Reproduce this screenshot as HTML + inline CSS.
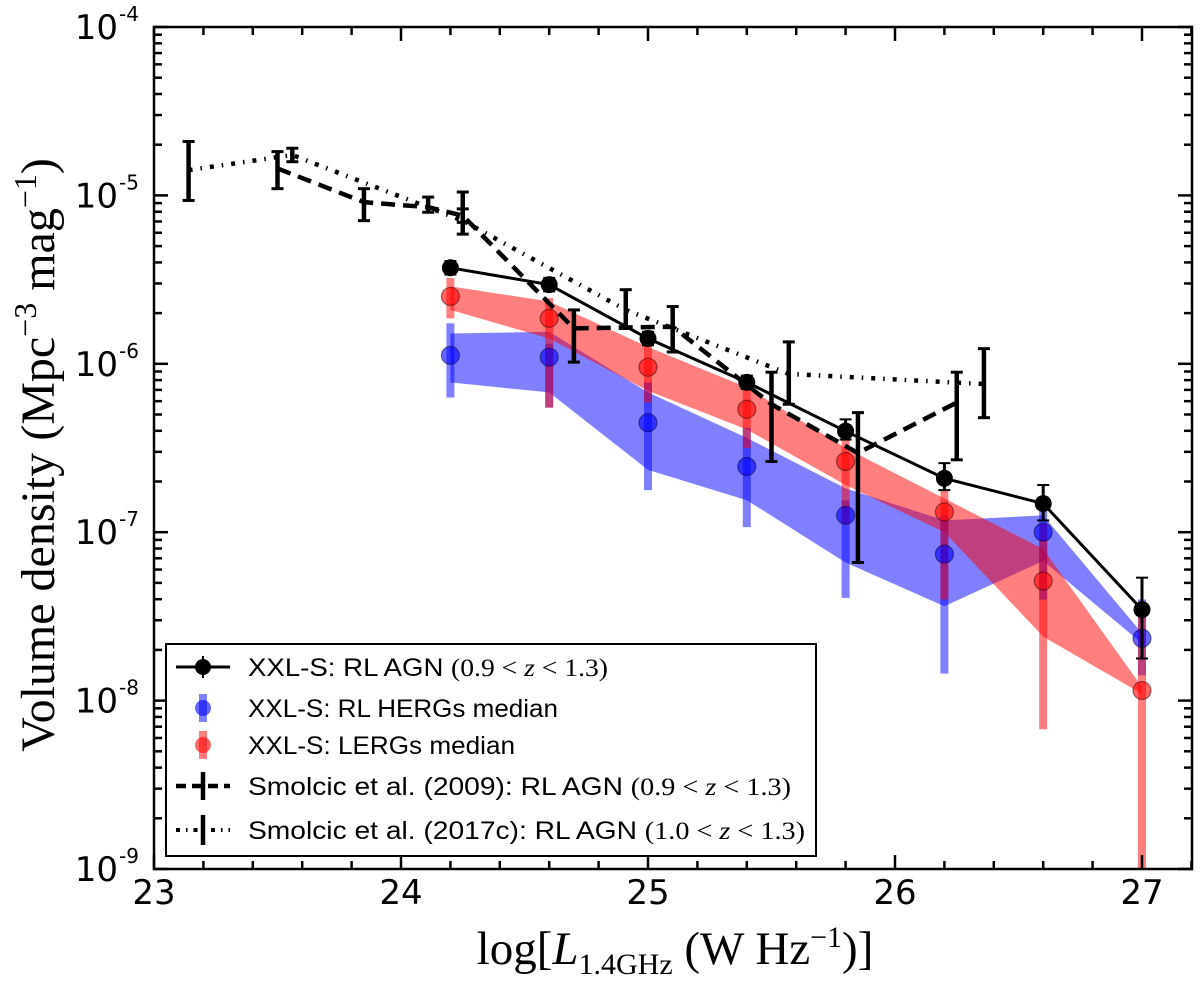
<!DOCTYPE html>
<html><head><meta charset="utf-8">
<style>
html,body{margin:0;padding:0;background:#fff;}
body{position:relative;width:1200px;height:986px;overflow:hidden;}
svg{display:block;}
</style></head>
<body>
<svg id="chart" width="1200" height="986" viewBox="0 0 1200 986" xmlns="http://www.w3.org/2000/svg">
<rect width="1200" height="986" fill="#fff"/>
<g id="plot"></g>
<g id="axes"></g>
</svg>
<script>
// ---- data (log10 of volume density) ----
const xxlX = [24.2, 24.6, 25.0, 25.4, 25.8, 26.2, 26.6, 27.0];
const agnY = [-5.43, -5.53, -5.85, -6.11, -6.40, -6.68, -6.83, -7.46];
const agnLo = [-5.47, -5.57, -5.89, -6.15, -6.45, -6.75, -6.93, -7.75];
const agnHi = [-5.39, -5.49, -5.81, -6.07, -6.33, -6.59, -6.72, -7.27];
const lergY = [-5.60, -5.73, -6.02, -6.27, -6.58, -6.88, -7.29, -7.94];
const lergBandHi = [-5.54, -5.63, -5.90, -6.14, -6.50, -6.80, -7.10, -7.92];
const lergBandLo = [-5.68, -5.85, -6.16, -6.39, -6.72, -7.00, -7.62, -7.96];
const lergErrLo = [-5.73, -6.26, -6.23, -6.50, -6.95, -7.40, -8.17, -9.0];
const lergErrHi = [-5.49, -5.61, -5.80, -6.12, -6.45, -6.75, -6.95, -7.50];
const hergY = [-5.95, -5.96, -6.35, -6.61, -6.90, -7.13, -7.00, -7.63];
const hergBandHi = [-5.82, -5.81, -6.17, -6.44, -6.74, -6.93, -6.90, -7.60];
const hergBandLo = [-6.11, -6.17, -6.63, -6.81, -7.18, -7.44, -7.17, -7.66];
const hergErrLo = [-6.20, -6.26, -6.75, -6.97, -7.39, -7.84, -7.40, -7.85];
const hergErrHi = [-5.76, -5.88, -6.11, -6.38, -6.81, -6.90, -6.80, -7.40];
const s09X = [23.50, 23.85, 24.11, 24.25, 24.70, 25.10, 25.50, 25.85, 26.25];
const s09Y = [-4.84, -5.04, -5.07, -5.12, -5.79, -5.78, -6.24, -6.53, -6.23];
const s09Lo = [-4.96, -5.15, -5.10, -5.16, -5.99, -5.93, -6.58, -7.18, -6.57];
const s09Hi = [-4.74, -4.96, -5.01, -5.08, -5.68, -5.66, -6.05, -6.29, -6.05];
const s17X = [23.14, 23.56, 24.25, 24.91, 25.57, 26.36];
const s17Y = [-4.85, -4.76, -5.15, -5.68, -6.06, -6.12];
const s17Lo = [-5.03, -4.80, -5.23, -5.79, -6.24, -6.32];
const s17Hi = [-4.68, -4.72, -4.98, -5.56, -5.87, -5.91];
const xTicks = [23, 24, 25, 26, 27];
const yTicks = [-4, -5, -6, -7, -8, -9];

// ---- axes ----
const L = 154, R = 1192, T = 27, B = 869;
const xMin = 23, xMax = 23 + (R - L) / 247;
const yTop = -4, yBot = -9;
const sx = v => L + (v - xMin) / (xMax - xMin) * (R - L);
const sy = v => T + (yTop - v) / (yTop - yBot) * (B - T);
const NS = 'http://www.w3.org/2000/svg';
function mk(tag, attrs, parent) {
  const e = document.createElementNS(NS, tag);
  for (const k in attrs) e.setAttribute(k, attrs[k]);
  parent.appendChild(e);
  return e;
}
const plot = document.getElementById('plot');
const axes = document.getElementById('axes');

const defs = mk('defs', {}, plot);
const cp = mk('clipPath', {id: 'clip'}, defs);
mk('rect', {x: L, y: T, width: R - L, height: B - T}, cp);
const g = mk('g', {'clip-path': 'url(#clip)'}, plot);

function band(hi, lo, color, name) {
  let pts = xxlX.map((x, i) => sx(x) + ',' + sy(hi[i]));
  pts = pts.concat(xxlX.map((x, i) => sx(x) + ',' + sy(lo[i])).reverse());
  const p = mk('polygon', {points: pts.join(' '), fill: color, 'fill-opacity': 0.5, stroke: 'none'}, g);
  
  
}
band(hergBandHi, hergBandLo, '#0000ff', 'herg-band');
band(lergBandHi, lergBandLo, '#ff0000', 'lerg-band');

function stripes(lo, hi, color, name) {
  xxlX.forEach((x, i) => {
    const l = mk('line', {x1: sx(x), x2: sx(x), y1: sy(lo[i]), y2: sy(hi[i]), stroke: color, 'stroke-opacity': 0.5, 'stroke-width': 8}, g);
    
    
  });
}
stripes(hergErrLo, hergErrHi, '#0000ff', 'herg-error-bar');
stripes(lergErrLo, lergErrHi, '#ff0000', 'lerg-error-bar');

function dots(ys, fill, edge, name) {
  xxlX.forEach((x, i) => {
    const c = mk('circle', {cx: sx(x), cy: sy(ys[i]), r: 9, fill: fill, 'fill-opacity': 0.6, stroke: edge, 'stroke-opacity': 0.5, 'stroke-width': 1.2}, g);
    
    
  });
}
dots(hergY, '#0000ff', '#000033', 'herg-median-point');
dots(lergY, '#ff0000', '#330000', 'lerg-median-point');

function errbars(xs, lo, hi, name) {
  xs.forEach((x, i) => {
    const e = mk('g', {stroke: '#000', 'stroke-width': 4.5}, g);
    
    
    mk('line', {x1: sx(x), x2: sx(x), y1: sy(lo[i]), y2: sy(hi[i])}, e);
    mk('line', {x1: sx(x) - 6, x2: sx(x) + 6, y1: sy(lo[i]), y2: sy(lo[i]), 'stroke-width': 3}, e);
    mk('line', {x1: sx(x) - 6, x2: sx(x) + 6, y1: sy(hi[i]), y2: sy(hi[i]), 'stroke-width': 3}, e);
  });
}
function line(xs, ys, dash, width, name) {
  const l = mk('polyline', {points: xs.map((x, i) => sx(x) + ',' + sy(ys[i])).join(' '), fill: 'none', stroke: '#000', 'stroke-width': width, 'stroke-dasharray': dash}, g);
  
  
}
line(s09X, s09Y, '14,8', 4.5, 'smolcic-2009-line');
errbars(s09X, s09Lo, s09Hi, 'smolcic-2009-error-bar');
line(s17X, s17Y, '4,8,1.5,8', 4.5, 'smolcic-2017-line');
errbars(s17X, s17Lo, s17Hi, 'smolcic-2017-error-bar');

line(xxlX, agnY, 'none', 3, 'xxl-agn-line');
xxlX.forEach((x, i) => {
  const e = mk('g', {stroke: '#000', 'stroke-width': 3}, g);
  
  
  mk('line', {x1: sx(x), x2: sx(x), y1: sy(agnLo[i]), y2: sy(agnHi[i])}, e);
  mk('line', {x1: sx(x) - 6, x2: sx(x) + 6, y1: sy(agnHi[i]), y2: sy(agnHi[i]), 'stroke-width': 2}, e);
  mk('line', {x1: sx(x) - 6, x2: sx(x) + 6, y1: sy(agnLo[i]), y2: sy(agnLo[i]), 'stroke-width': 2}, e);
  const c = mk('circle', {cx: sx(x), cy: sy(agnY[i]), r: 8.5, fill: '#000'}, g);
  
  
});

const frame = mk('rect', {x: L, y: T, width: R - L, height: B - T, fill: 'none', stroke: '#000', 'stroke-width': 2.5}, axes);


const tk = mk('g', {stroke: '#000', 'stroke-width': 2.5}, axes);


for (let v = 23; v <= xMax + 1e-6; v += 0.2) {
  const major = Math.abs(v - Math.round(v)) < 1e-6;
  const len = major ? 14 : 8;
  mk('line', {x1: sx(v), x2: sx(v), y1: B, y2: B - len}, tk);
  mk('line', {x1: sx(v), x2: sx(v), y1: T, y2: T + len}, tk);
}
for (let d = -9; d < -4; d++) {
  for (let m = 1; m < 10; m++) {
    const v = d + Math.log10(m);
    const len = m === 1 ? 14 : 8;
    mk('line', {x1: L, x2: L + len, y1: sy(v), y2: sy(v)}, tk);
    mk('line', {x1: R, x2: R - len, y1: sy(v), y2: sy(v)}, tk);
  }
}
mk('line', {x1: L, x2: L + 14, y1: T, y2: T}, tk);
mk('line', {x1: R, x2: R - 14, y1: T, y2: T}, tk);

xTicks.forEach(v => {
  const t = mk('text', {x: sx(v), y: 904, 'text-anchor': 'middle', 'font-family': 'DejaVu Sans, Liberation Sans, sans-serif', 'font-size': 34, fill: '#000'}, axes);
  t.textContent = v;
  
  
});
yTicks.forEach(v => {
  const t = mk('text', {x: 118, y: sy(v) + 12, 'text-anchor': 'end', 'font-family': 'DejaVu Sans, Liberation Sans, sans-serif', 'font-size': 34, fill: '#000'}, axes);
  t.textContent = '10';
  
  
  const s = mk('text', {x: 119, y: sy(v) - 6, 'text-anchor': 'start', 'font-family': 'DejaVu Sans, Liberation Sans, sans-serif', 'font-size': 20, fill: '#000'}, axes);
  s.textContent = String(v);
  
  
});
</script>
<svg style="position:absolute;left:0;top:0" width="1200" height="986" xmlns="http://www.w3.org/2000/svg">
<text transform="translate(54,455) rotate(-90)" text-anchor="middle" font-family="Liberation Serif, serif" font-size="48" fill="#000">Volume density (Mpc<tspan font-size="32" dy="-18">−3</tspan><tspan dy="18"> mag</tspan><tspan font-size="32" dy="-18">−1</tspan><tspan dy="18">)</tspan></text>
<text x="675" y="964" text-anchor="middle" font-family="Liberation Serif, serif" font-size="47" fill="#000">log[<tspan font-style="italic">L</tspan><tspan font-size="30" dy="10">1.4GHz</tspan><tspan dy="-10"> (W Hz</tspan><tspan font-size="30" dy="-17">−1</tspan><tspan dy="17">)]</tspan></text>
<g font-family="Liberation Sans, DejaVu Sans, sans-serif" font-size="25" fill="#000">
<rect x="166" y="644" width="650" height="212" fill="#fff" stroke="#000" stroke-width="2"/>
<g>
<line x1="176" y1="667" x2="230" y2="667" stroke="#000" stroke-width="3"/>
<line x1="203" y1="656" x2="203" y2="678" stroke="#000" stroke-width="2"/>
<circle cx="203" cy="667" r="8" fill="#000"/>
<text x="248" y="676" textLength="360" lengthAdjust="spacingAndGlyphs">XXL-S: RL AGN <tspan font-family="Liberation Serif, serif">(0.9 &lt; <tspan font-style="italic">z</tspan> &lt; 1.3)</tspan></text>
</g>
<g>
<line x1="203" y1="694" x2="203" y2="722" stroke="#0000ff" stroke-opacity="0.5" stroke-width="8"/>
<circle cx="203" cy="708" r="8" fill="#0000ff" fill-opacity="0.6"/>
<text x="248" y="717" textLength="310" lengthAdjust="spacingAndGlyphs">XXL-S: RL HERGs median</text>
</g>
<g>
<line x1="203" y1="731" x2="203" y2="759" stroke="#ff0000" stroke-opacity="0.5" stroke-width="8"/>
<circle cx="203" cy="745" r="8" fill="#ff0000" fill-opacity="0.6"/>
<text x="248" y="754" textLength="267" lengthAdjust="spacingAndGlyphs">XXL-S: LERGs median</text>
</g>
<g>
<line x1="176" y1="786" x2="230" y2="786" stroke="#000" stroke-width="4.5" stroke-dasharray="10,6"/>
<line x1="203" y1="772" x2="203" y2="800" stroke="#000" stroke-width="4.5"/>
<text x="248" y="795" textLength="543" lengthAdjust="spacingAndGlyphs">Smolcic et al. (2009): RL AGN <tspan font-family="Liberation Serif, serif">(0.9 &lt; <tspan font-style="italic">z</tspan> &lt; 1.3)</tspan></text>
</g>
<g>
<line x1="176" y1="830" x2="230" y2="830" stroke="#000" stroke-width="4" stroke-dasharray="4,6,1.5,6"/>
<line x1="203" y1="815" x2="203" y2="845" stroke="#000" stroke-width="4.5"/>
<text x="248" y="839" textLength="557" lengthAdjust="spacingAndGlyphs">Smolcic et al. (2017c): RL AGN <tspan font-family="Liberation Serif, serif">(1.0 &lt; <tspan font-style="italic">z</tspan> &lt; 1.3)</tspan></text>
</g>
</g>
</svg>
</body></html>
